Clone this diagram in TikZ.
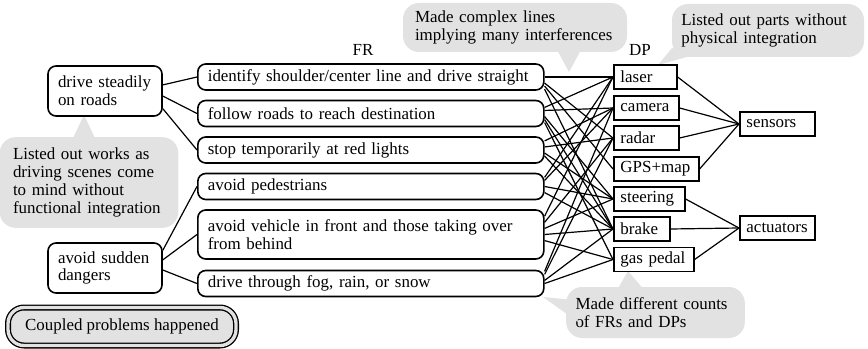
\documentclass[tikz,border=0pt]{standalone}
\usepackage{fontspec}
\setmainfont{Liberation Serif}
\definecolor{bubblegray}{RGB}{226,226,226}
\begin{document}
\begin{tikzpicture}[x=0.75pt, y=-0.75pt, line width=0.9pt,
  every node/.style={font=\fontsize{12.7}{13.4}\selectfont},
  bubble/.style={fill=bubblegray, rounded corners=12pt, inner xsep=9pt, inner ysep=0pt, align=left},
  fnbox/.style={draw, fill=white, line width=1.2pt, rounded corners=6pt, inner xsep=7.5pt, inner ysep=0pt, align=left},
  frbox/.style={fnbox, anchor=west, text width=244.5pt, minimum height=19.5pt},
  dpbox/.style={draw, fill=white, line width=1.2pt, anchor=west, inner xsep=5pt, inner ysep=0pt, align=left, minimum height=18pt}]
  \useasboundingbox (0,0) rectangle (868,349);
  % comment bubbles
  \node[bubble, inner xsep=10pt, text width=114pt, minimum height=68pt] (works) at (89,182.5)
    {Listed out works as\\driving scenes come\\to mind without\\functional integration};
  \fill[bubblegray] (72,140) -- (84,115) -- (96,140) -- cycle;
  \node[bubble, text width=150pt, minimum height=36.75pt] (lines) at (515,27.5)
    {Made complex lines\\implying many interferences};
  \fill[bubblegray] (556,48) -- (569,72) -- (582,48) -- cycle;
  \node[bubble, inner xsep=7pt, text width=130pt, minimum height=39.75pt] (parts) at (768,30.5)
    {Listed out parts without\\physical integration};
  \fill[bubblegray] (672,48) -- (658,65) -- (694,55) -- cycle;
  \node[bubble, inner xsep=7pt, text width=120pt, minimum height=38.25pt] (counts) at (655.5,312.5)
    {Made different counts\\of FRs and DPs};
  \fill[bubblegray] (616,292) -- (628,271) -- (646,292) -- cycle;
  \fill[bubblegray] (574,300) -- (543,297) -- (578,322) -- cycle;
  % headers
  \node (frlabel) at (363,50) {FR};
  \node (dplabel) at (640,50) {DP};
  % top level functions
  \node[fnbox, text width=70.5pt, minimum height=37.5pt] (ds) at (105,91) {drive steadily\\on roads};
  \node[fnbox, text width=70.5pt, minimum height=37.5pt] (as) at (105,268) {avoid sudden\\dangers};
  % FRs
  \node[frbox] (fr1) at (197,77) {identify shoulder/center line and drive straight};
  \node[frbox] (fr2) at (197,113.5) {follow roads to reach destination};
  \node[frbox] (fr3) at (197,150) {stop temporarily at red lights};
  \node[frbox] (fr4) at (197,186.5) {avoid pedestrians};
  \node[frbox, minimum height=36.75pt] (fr5) at (197,234.5) {avoid vehicle in front and those taking over\\from behind};
  \node[frbox] (fr6) at (197,283.5) {drive through fog, rain, or snow};
  % DPs
  \node[dpbox, text width=37.25pt] (laser) at (613,77) {laser};
  \node[dpbox, text width=38.75pt] (camera) at (613,108) {camera};
  \node[dpbox, text width=38.75pt] (radar) at (613,138) {radar};
  \node[dpbox, text width=53.75pt] (gps) at (613,169) {GPS+map};
  \node[dpbox, text width=43.25pt] (steering) at (613,199) {steering};
  \node[dpbox, text width=32pt] (brake) at (613,229) {brake};
  \node[dpbox, text width=50pt] (gas) at (613,259.5) {gas pedal};
  \node[dpbox, text width=46.25pt] (sensors) at (739,124) {sensors};
  \node[dpbox, text width=46.25pt] (actuators) at (739,228) {actuators};
  % decomposition
  \draw (ds.6) -- (fr1.west);
  \draw (ds.-5) -- (fr2.west);
  \draw (ds.-17) -- (fr3.west);
  \draw (as.17) -- (fr4.west);
  \draw (as.8) -- (fr5.west);
  \draw (as.-2) -- (fr6.west);
  % FR-DP mapping (start angle on the FR box)
  \foreach \a/\s/\b in {1/0/laser, 1/-2/radar, 1/-3/gps, 1/-4/brake,
                        2/2/laser, 2/1/camera, 2/-1/steering, 2/-2/brake, 2/-3/gas,
                        3/3/camera, 3/1/radar, 3/-2/brake, 3/-1/steering,
                        4/3/laser, 4/2/camera, 4/-2/brake, 4/0/steering,
                        5/6/laser, 5/4/radar, 5/0/brake, 5/2/steering, 5/-2/gas,
                        6/4/camera, 6/3/radar, 6/1/brake, 6/0/gas}
    \draw (fr\a.\s) -- (\b.west);
  \foreach \b in {laser, camera, radar, gps}
    \draw (\b.east) -- (sensors.west);
  \foreach \b in {steering, brake, gas}
    \draw (\b.east) -- (actuators.west);
  % note
  \node[draw, double=bubblegray, double distance=2.5pt, line width=1pt, fill=bubblegray, rounded corners=12pt,
        minimum width=171pt, minimum height=28.5pt] (coupled) at (122,326.5) {Coupled problems happened};
\end{tikzpicture}
\end{document}
